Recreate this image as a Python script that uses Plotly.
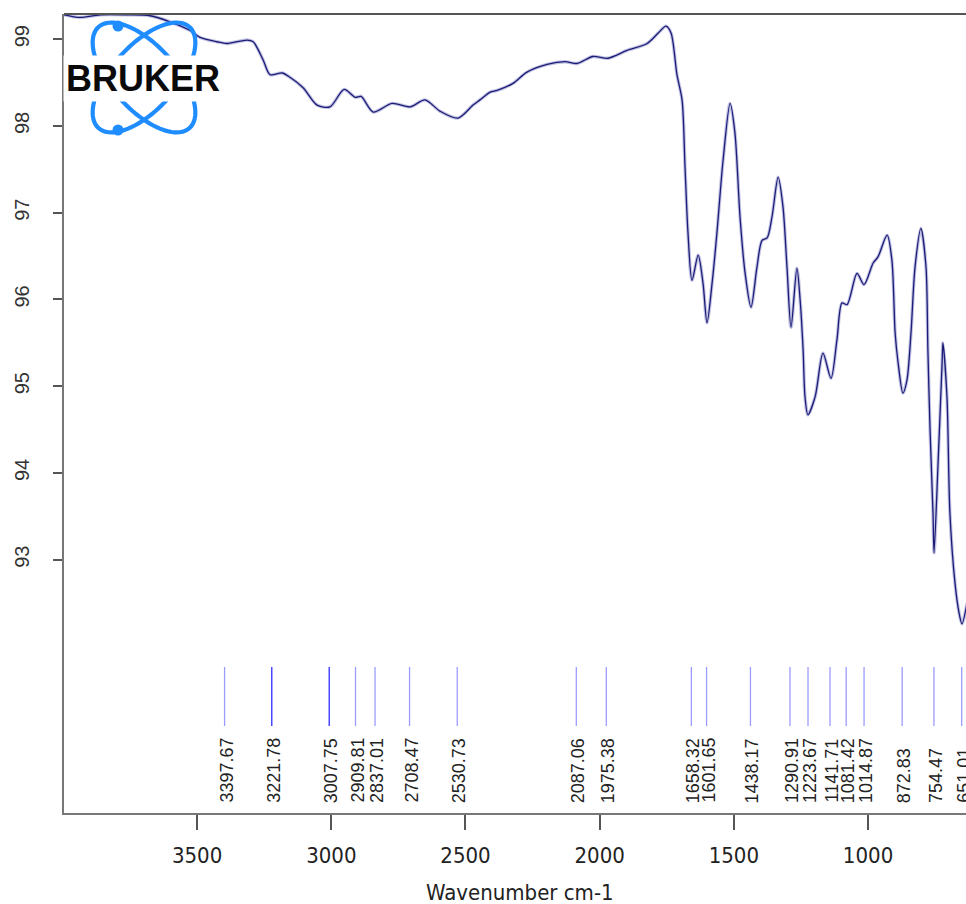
import math
import plotly.graph_objects as go

# ---------------- data ----------------
wavenumber = [3996, 3936, 3861, 3761, 3675, 3601, 3526, 3489, 3426, 3388, 3314, 3291,
              3254, 3228, 3183, 3154, 3105, 3053, 3005, 2952, 2911, 2889, 2844, 2774,
              2706, 2651, 2595, 2528, 2472, 2446, 2408, 2382, 2323, 2271, 2196, 2129,
              2084, 2025, 1969, 1898, 1823, 1782, 1753, 1734, 1712, 1693, 1682, 1671,
              1656, 1633, 1615, 1600, 1581, 1563, 1540, 1514, 1496, 1477, 1458, 1436,
              1414, 1395, 1376, 1358, 1335, 1317, 1302, 1287, 1265, 1253, 1242, 1235,
              1224, 1197, 1168, 1138, 1116, 1097, 1078, 1041, 1015, 981, 963, 929,
              911, 899, 888, 870, 855, 840, 825, 803, 784, 777, 769, 758, 754, 739,
              724, 721, 706, 695, 676, 661, 650, 631]
transmittance = [99.28, 99.25, 99.28, 99.28, 99.27, 99.20, 99.10, 99.02, 98.97, 98.95,
                 98.99, 98.97, 98.76, 98.59, 98.61, 98.56, 98.44, 98.24, 98.22, 98.42,
                 98.33, 98.34, 98.16, 98.26, 98.22, 98.30, 98.17, 98.09, 98.24, 98.30,
                 98.39, 98.41, 98.49, 98.62, 98.71, 98.74, 98.72, 98.80, 98.78, 98.87,
                 98.95, 99.07, 99.15, 99.07, 98.59, 98.30, 97.53, 96.77, 96.22, 96.51,
                 96.19, 95.73, 96.19, 96.77, 97.61, 98.26, 97.92, 96.95, 96.30, 95.91,
                 96.37, 96.68, 96.71, 96.95, 97.41, 97.07, 96.37, 95.68, 96.36, 95.99,
                 95.42, 94.88, 94.67, 94.88, 95.38, 95.09, 95.53, 95.96, 95.94, 96.30,
                 96.17, 96.42, 96.49, 96.74, 96.45, 95.61, 95.27, 94.92, 95.07, 95.61,
                 96.37, 96.82, 96.37, 95.42, 94.50, 93.54, 93.08, 94.12, 95.27, 95.50,
                 94.88, 93.54, 92.73, 92.39, 92.26, 92.50]

peak_positions = [3397.67, 3221.78, 3007.75, 2909.81, 2837.01, 2708.47, 2530.73,
                  2087.06, 1975.38, 1658.32, 1601.65, 1438.17, 1290.91, 1223.67,
                  1141.71, 1081.42, 1014.87, 872.83, 754.47, 651.01]
peak_labels = ["3397.67", "3221.78", "3007.75", "2909.81", "2837.01", "2708.47",
               "2530.73", "2087.06", "1975.38", "1658.32", "1601.65", "1438.17",
               "1290.91", "1223.67", "1141.71", "1081.42", "1014.87", "872.83",
               "754.47", "651.01"]
strong_peaks = [3221.78, 3007.75]

x_ticks = [3500, 3000, 2500, 2000, 1500, 1000]
y_ticks = [93, 94, 95, 96, 97, 98, 99]
x_title = "Wavenumber cm-1"
logo_text = "BRUKER"

# ---------------- layout geometry ----------------
W, H = 966, 904
ML, MR, MT, MB = 64, 0, 14, 91
PW, PH = W - ML - MR, H - MT - MB


def px(xp):
    return (xp - ML) / PW


def py(yp):
    return (H - MB - yp) / PH


NARROW = "Liberation Sans Narrow, Arial Narrow, DejaVu Sans Condensed, sans-serif"
REG = "Liberation Sans, Arial, sans-serif"

fig = go.Figure()
# halo + core line for the slightly blurred look
fig.add_trace(go.Scatter(x=wavenumber, y=transmittance, mode="lines",
                         line=dict(color="rgba(120,120,190,0.45)", width=3.4,
                                   shape="spline", smoothing=0.8),
                         hoverinfo="skip", showlegend=False))
fig.add_trace(go.Scatter(x=wavenumber, y=transmittance, mode="lines",
                         line=dict(color="#1c1c78", width=1.3,
                                   shape="spline", smoothing=0.8),
                         showlegend=False))

shapes = []
annotations = []

# peak marker lines and labels
for p, lab in zip(peak_positions, peak_labels):
    col = "#2f2fff" if p in strong_peaks else "#9c9cff"
    shapes.append(dict(type="line", xref="x", yref="paper", x0=p, x1=p,
                       y0=py(726), y1=py(667), line=dict(color=col, width=1.3)))
    annotations.append(dict(x=p, y=py(805), xref="x", yref="paper", text=lab,
                            textangle=-90, showarrow=False, xanchor="center",
                            yanchor="bottom", xshift=1.5,
                            font=dict(family=REG, size=18, color="#222")))

# top frame line
shapes.append(dict(type="line", xref="paper", yref="paper", x0=0, x1=1, y0=1, y1=1,
                   line=dict(color="#555", width=2)))

# Bruker logo: two crossing orbits + two dots
cx, cy, a, b = 144.0, 77.5, 68.0, 32.0
for ang in (48.0, -48.0):
    th = math.radians(ang)
    pts = []
    for i in range(97):
        t = 2 * math.pi * i / 96
        ex = a * math.cos(t)
        ey = b * math.sin(t)
        xx = cx + ex * math.cos(th) - ey * math.sin(th)
        yy = cy + ex * math.sin(th) + ey * math.cos(th)
        pts.append((px(xx), py(yy)))
    path = "M " + " L ".join(f"{x:.5f},{y:.5f}" for x, y in pts) + " Z"
    shapes.append(dict(type="path", xref="paper", yref="paper", path=path,
                       line=dict(color="#1f8cff", width=4.2), layer="above"))
for dx, dy in ((118, 26), (118, 130)):
    shapes.append(dict(type="circle", xref="paper", yref="paper",
                       xsizemode="pixel", ysizemode="pixel",
                       xanchor=px(dx), yanchor=py(dy), x0=-5.5, x1=5.5, y0=-5.5, y1=5.5,
                       fillcolor="#1f8cff", line=dict(width=0), layer="above"))
annotations.append(dict(x=px(142.5), y=py(78.5), xref="paper", yref="paper",
                        text="<b>" + logo_text + "</b>", showarrow=False,
                        xanchor="center", yanchor="middle", bgcolor="white",
                        borderpad=2,
                        font=dict(family=REG, size=36, color="#0a0a0a")))

# x-axis title
annotations.append(dict(x=px(520), y=py(892), xref="paper", yref="paper",
                        text=x_title, showarrow=False, xanchor="center",
                        yanchor="middle", font=dict(family=NARROW, size=22, color="#222")))

fig.update_layout(
    width=W, height=H,
    margin=dict(l=ML, r=MR, t=MT, b=MB, pad=0),
    paper_bgcolor="white", plot_bgcolor="white",
    shapes=shapes, annotations=annotations,
    xaxis=dict(range=[3996, 635], tickvals=x_ticks, ticktext=[str(v) for v in x_ticks],
               showgrid=False, zeroline=False, showline=True, linecolor="#777",
               linewidth=2, ticks="outside", ticklen=15, tickwidth=1.5,
               tickcolor="#555", tickfont=dict(family=NARROW, size=22, color="#222"),
               ticklabelstandoff=7),
    yaxis=dict(range=[90.08, 99.29], tickvals=y_ticks, ticktext=[str(v) for v in y_ticks],
               showgrid=False, zeroline=False, showline=True, linecolor="#777",
               linewidth=2, ticks="outside", ticklen=9, tickwidth=1.5,
               tickcolor="#555", tickangle=-90,
               tickfont=dict(family=REG, size=20, color="#333"),
               ticklabelstandoff=16),
)

fig.write_html("out.html",
               config={"displayModeBar": False},
               post_script="document.body.style.margin='0';"
                           "document.body.style.overflow='hidden';")
